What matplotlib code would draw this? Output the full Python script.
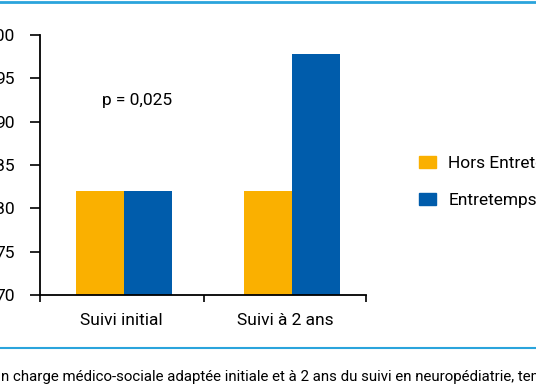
import matplotlib
matplotlib.use("Agg")
import matplotlib.pyplot as plt
from matplotlib.lines import Line2D
from matplotlib.patches import Patch

plt.rcParams['font.family'] = ['Roboto', 'DejaVu Sans']

categories = ["Suivi initial", "Suivi à 2 ans"]
series_names = ["Hors Entretemps", "Entretemps"]
hors = [82.0, 82.0]
entre = [82.0, 97.8]
yticks = [70, 75, 80, 85, 90, 95, 100]
p_text = "p = 0,025"
caption = "n charge médico-sociale adaptée initiale et à 2 ans du suivi en neuropédiatrie, temps"

orange = "#FAB000"
blue = "#005CAB"
line_blue = "#2AA4DC"

W, H = 536, 386
fig = plt.figure(figsize=(W / 100, H / 100), dpi=100)
ax = fig.add_axes([40 / W, 1 - 295 / H, (366 - 40) / W, (295 - 35) / H])

x = list(range(len(categories)))
bw = 0.286
ax.bar([i - bw / 2 for i in x], hors, width=bw, color=orange, label=series_names[0])
ax.bar([i + bw / 2 for i in x], entre, width=bw, color=blue, label=series_names[1])

ax.set_ylim(70, 100)
ax.set_xlim(-0.5, 1.44)
ax.set_yticks(yticks)
ax.set_yticklabels([str(v) for v in yticks])
ax.set_xticks([-0.5, 0.476, 1.44])
ax.set_xticklabels([])
ax.set_xticks([-0.015, 0.96], minor=True)
ax.set_xticklabels(categories, minor=True)
ax.tick_params(axis='x', which='minor', length=0, pad=13, labelsize=12.5)
ax.tick_params(axis='x', which='major', length=5, width=1.2, direction='out')
ax.tick_params(axis='y', length=7, width=1.2, direction='out', pad=11, labelsize=12.5)
for s in ['top', 'right']:
    ax.spines[s].set_visible(False)
for s in ['left', 'bottom']:
    ax.spines[s].set_linewidth(1.3)
ax.set_facecolor('none')

ax.text(0.08, 92.4, p_text, fontsize=12.5, ha='center', va='center')

handles = [Patch(color=orange), Patch(color=blue)]
fig.legend(handles, series_names, loc='upper left', bbox_to_anchor=(403 / W, 1 - 140 / H),
           frameon=False, fontsize=12.5, handlelength=1.0, handleheight=0.75,
           labelspacing=1.25, handletextpad=0.7)

fig.add_artist(Line2D([0, 1], [1 - 2 / H, 1 - 2 / H], transform=fig.transFigure, color=line_blue, lw=2))
fig.add_artist(Line2D([0, 1], [1 - 348 / H, 1 - 348 / H], transform=fig.transFigure, color=line_blue, lw=1.5))
fig.text(1 / W, 1 - 377 / H, caption, fontsize=10.8, ha='left', va='center')

fig.savefig("out.png", dpi=100)
